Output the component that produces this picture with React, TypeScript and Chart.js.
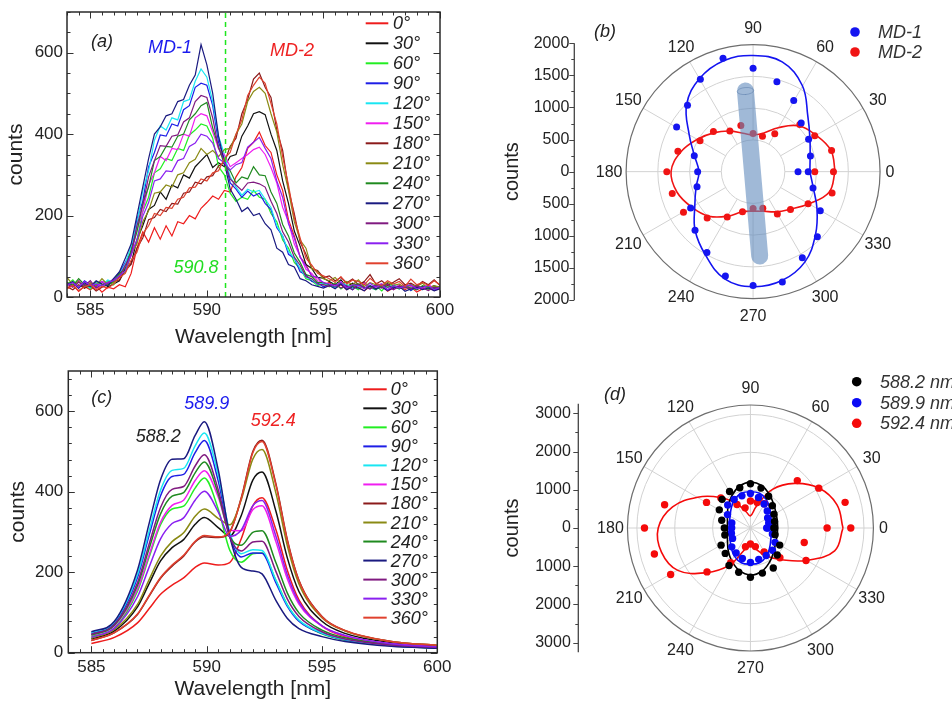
import React, { useEffect, useRef } from "react";
import { Chart, registerables } from "chart.js";

Chart.register(...registerables);

const FONT = "'Liberation Sans', Arial, Helvetica, sans-serif";
const INK = "#222222";

// ---------------- shared spectrum metadata ----------------
const ANGLE_LABELS = ["0°", "30°", "60°", "90°", "120°", "150°", "180°", "210°", "240°", "270°", "300°", "330°", "360°"];
const SERIES_COLORS = [
  "#ee1c1c", "#111111", "#22ee22", "#1e1ee6", "#19e6f2", "#f01ef0", "#8b1a1a",
  "#8a8a14", "#1f8a1f", "#1a1a80", "#801a80", "#8a20f0", "#e0412e",
];
const X_TICKS = [585, 590, 595, 600];
const Y_TICKS = [0, 200, 400, 600];

// ---------------- panel (a): measured spectra ----------------
const WL_A = [584, 584.25, 584.5, 584.75, 585, 585.25, 585.5, 585.75, 586, 586.25, 586.5, 586.75, 587, 587.25, 587.5, 587.75, 588, 588.25, 588.5, 588.75, 589, 589.25, 589.5, 589.75, 590, 590.25, 590.5, 590.75, 591, 591.25, 591.5, 591.75, 592, 592.25, 592.5, 592.75, 593, 593.25, 593.5, 593.75, 594, 594.25, 594.5, 594.75, 595, 595.25, 595.5, 595.75, 596, 596.25, 596.5, 596.75, 597, 597.25, 597.5, 597.75, 598, 598.25, 598.5, 598.75, 599, 599.25, 599.5, 599.75, 600];
const A_0 = [22, 30, 14, 26, 18, 28, 12, 24, 20, 30, 25, 58, 120, 160, 135, 170, 142, 175, 150, 185, 180, 200, 192, 218, 232, 248, 240, 262, 258, 295, 318, 365, 380, 405, 372, 355, 300, 262, 190, 150, 98, 80, 50, 48, 30, 36, 22, 30, 18, 28, 24, 15, 26, 20, 30, 14, 22, 28, 18, 25, 12, 20, 26, 16, 22];
const A_30 = [35, 28, 40, 22, 34, 30, 38, 25, 32, 40, 70, 82, 140, 175, 215, 225, 258, 240, 275, 268, 300, 292, 320, 335, 350, 318, 330, 320, 345, 350, 395, 420, 450, 455, 448, 400, 360, 285, 230, 162, 125, 80, 70, 48, 46, 38, 30, 42, 25, 34, 28, 36, 22, 30, 26, 33, 20, 28, 24, 30, 18, 26, 22, 28, 20];
const A_60 = [30, 42, 25, 38, 20, 34, 28, 40, 30, 52, 60, 105, 140, 210, 245, 305, 315, 340, 335, 365, 360, 398, 410, 425, 420, 390, 320, 300, 255, 235, 245, 240, 262, 245, 240, 205, 185, 140, 120, 85, 70, 45, 40, 28, 32, 25, 35, 20, 30, 26, 18, 32, 22, 28, 15, 30, 24, 20, 28, 16, 25, 22, 18, 26, 20];
const A_90 = [28, 36, 22, 40, 30, 25, 38, 32, 45, 60, 85, 110, 190, 235, 320, 355, 398, 395, 425, 420, 460, 470, 515, 525, 520, 470, 380, 340, 280, 265, 245, 260, 248, 255, 230, 215, 170, 150, 105, 95, 62, 55, 38, 35, 25, 30, 22, 34, 26, 18, 30, 24, 20, 28, 32, 18, 25, 22, 30, 16, 26, 20, 24, 18, 22];
const A_120 = [32, 26, 38, 30, 22, 35, 28, 42, 36, 55, 82, 125, 180, 260, 310, 385, 420, 410, 440, 435, 480, 485, 530, 560, 540, 480, 395, 350, 295, 270, 250, 265, 258, 262, 240, 220, 175, 150, 112, 95, 70, 48, 44, 30, 34, 28, 24, 36, 30, 20, 26, 32, 22, 18, 28, 24, 34, 20, 26, 22, 30, 18, 24, 20, 26];
const A_150 = [34, 25, 40, 28, 35, 22, 38, 30, 42, 50, 78, 100, 165, 210, 275, 305, 345, 335, 365, 362, 400, 395, 440, 450, 445, 405, 365, 350, 320, 330, 340, 350, 362, 368, 350, 318, 280, 220, 185, 130, 100, 68, 58, 40, 36, 32, 26, 38, 22, 30, 28, 35, 20, 26, 32, 24, 18, 30, 22, 28, 25, 20, 30, 22, 26];
const A_180 = [25, 18, 30, 22, 28, 15, 24, 30, 38, 42, 65, 80, 120, 145, 190, 195, 215, 210, 230, 228, 255, 258, 282, 278, 295, 298, 322, 330, 370, 390, 450, 485, 535, 550, 515, 490, 410, 360, 265, 205, 135, 105, 70, 65, 48, 52, 40, 48, 35, 44, 30, 38, 55, 32, 40, 28, 36, 45, 30, 34, 26, 38, 30, 42, 28];
const A_210 = [48, 30, 38, 25, 35, 28, 45, 30, 36, 55, 62, 105, 130, 185, 212, 255, 258, 275, 270, 300, 305, 330, 338, 365, 350, 360, 345, 362, 365, 400, 425, 480, 505, 515, 500, 450, 405, 325, 262, 185, 140, 120, 70, 62, 45, 40, 48, 32, 38, 30, 42, 26, 35, 30, 24, 36, 28, 32, 22, 30, 26, 34, 20, 28, 24];
const A_240 = [36, 28, 45, 30, 25, 38, 32, 28, 40, 58, 70, 115, 160, 230, 270, 335, 345, 370, 368, 395, 400, 435, 450, 470, 478, 415, 370, 325, 310, 280, 295, 290, 320, 300, 298, 258, 230, 178, 150, 108, 85, 55, 50, 36, 35, 30, 25, 34, 20, 28, 32, 22, 26, 18, 30, 24, 28, 20, 26, 22, 18, 28, 24, 20, 25];
const A_270 = [30, 38, 22, 35, 26, 40, 32, 28, 45, 62, 95, 130, 200, 270, 340, 400, 418, 445, 450, 480, 485, 520, 545, 620, 570, 500, 395, 330, 265, 240, 210, 220, 200, 205, 180, 165, 120, 110, 80, 74, 45, 40, 30, 26, 22, 28, 20, 32, 18, 25, 22, 15, 28, 20, 24, 16, 22, 26, 14, 20, 24, 18, 22, 15, 20];
const A_300 = [32, 24, 36, 28, 40, 22, 30, 35, 42, 50, 78, 105, 175, 225, 295, 335, 372, 370, 395, 398, 430, 440, 480, 495, 490, 440, 365, 335, 290, 275, 262, 280, 282, 278, 270, 235, 205, 160, 135, 98, 78, 50, 45, 32, 30, 26, 32, 22, 28, 18, 30, 24, 20, 28, 22, 32, 18, 26, 24, 20, 28, 22, 16, 24, 20];
const A_330 = [30, 35, 24, 38, 28, 32, 26, 36, 40, 52, 64, 104, 140, 198, 232, 285, 290, 310, 308, 335, 340, 370, 378, 400, 395, 378, 340, 330, 312, 325, 330, 368, 380, 392, 365, 340, 285, 245, 180, 145, 98, 76, 52, 48, 35, 32, 26, 36, 22, 30, 28, 20, 34, 24, 30, 18, 28, 22, 26, 30, 20, 24, 28, 18, 24];
const A_360 = [20, 28, 16, 25, 30, 18, 26, 22, 32, 48, 58, 90, 110, 155, 175, 205, 200, 220, 218, 240, 245, 268, 270, 290, 285, 305, 310, 340, 355, 400, 435, 495, 520, 540, 525, 475, 425, 345, 275, 195, 145, 95, 78, 58, 52, 45, 36, 50, 32, 42, 38, 30, 46, 34, 28, 40, 32, 38, 26, 44, 30, 36, 28, 40, 30];
const SPEC_A = [A_0, A_30, A_60, A_90, A_120, A_150, A_180, A_210, A_240, A_270, A_300, A_330, A_360];

// ---------------- panel (c): fitted spectra ----------------
const WL_C = [585, 586, 587, 587.5, 588, 588.5, 589, 589.5, 589.9, 590.5, 591, 591.5, 592, 592.4, 593, 593.5, 594, 595, 596, 598, 600];
const C_0 = [23, 38, 74, 109, 145, 168, 186, 212, 223, 218, 224, 283, 365, 385, 306, 204, 131, 66, 40, 21, 13];
const C_30 = [34, 54, 114, 171, 228, 261, 281, 319, 336, 311, 290, 341, 429, 449, 352, 235, 152, 78, 48, 25, 16];
const C_60 = [40, 61, 153, 237, 318, 357, 364, 409, 434, 357, 255, 225, 246, 248, 180, 119, 80, 47, 31, 17, 11];
const C_90 = [48, 73, 187, 291, 390, 438, 443, 497, 527, 427, 290, 238, 248, 247, 174, 115, 78, 48, 32, 18, 12];
const C_120 = [50, 76, 194, 301, 404, 453, 458, 514, 546, 442, 300, 246, 256, 254, 180, 118, 81, 49, 33, 18, 12];
const C_150 = [43, 67, 158, 242, 324, 366, 379, 428, 452, 387, 304, 303, 355, 365, 276, 183, 121, 66, 42, 22, 15];
const C_180 = [30, 50, 95, 140, 185, 215, 240, 275, 288, 286, 300, 385, 500, 528, 420, 280, 180, 90, 55, 28, 18];
const C_210 = [36, 58, 120, 181, 240, 276, 298, 339, 357, 334, 318, 380, 481, 505, 397, 265, 171, 87, 54, 28, 18];
const C_240 = [44, 68, 167, 258, 345, 389, 398, 447, 474, 395, 290, 267, 299, 303, 224, 148, 99, 56, 37, 20, 13];
const C_270 = [52, 78, 205, 320, 430, 481, 482, 540, 574, 455, 290, 212, 203, 196, 130, 85, 60, 40, 28, 16, 11];
const C_300 = [46, 70, 174, 269, 361, 406, 413, 464, 492, 405, 288, 253, 275, 277, 202, 133, 90, 52, 34, 19, 13];
const C_330 = [38, 61, 139, 212, 283, 321, 335, 379, 401, 350, 289, 305, 365, 378, 290, 193, 126, 67, 43, 22, 15];
const C_360 = [30, 50, 96, 142, 187, 218, 242, 277, 291, 288, 300, 383, 497, 525, 417, 278, 179, 89, 55, 28, 18];
const SPEC_C = [C_0, C_30, C_60, C_90, C_120, C_150, C_180, C_210, C_240, C_270, C_300, C_330, C_360];

// ---------------- polar panels (b), (d) ----------------
const POLAR_ANGLES = [0, 15, 30, 45, 60, 75, 90, 105, 120, 135, 150, 165, 180, 195, 210, 225, 240, 255, 270, 285, 300, 315, 330, 345, 360];
const POLAR_LABEL_ANGLES = [0, 30, 60, 90, 120, 150, 180, 210, 240, 270, 300, 330];

const B_MD1 = [868, 935, 1010, 1072, 1280, 1450, 1612, 1830, 1661, 1461, 1391, 959, 873, 914, 1136, 1293, 1454, 1685, 1773, 1780, 1551, 1432, 1222, 977, 708];
const B_MD2 = [1266, 1280, 1121, 1041, 683, 570, 594, 745, 732, 884, 965, 1226, 1359, 1318, 1266, 1023, 815, 646, 573, 592, 764, 833, 1000, 1288, 972];
const B_FIT1 = [894, 930, 1034, 1220, 1550, 1770, 1810, 1790, 1680, 1480, 1163, 956, 853, 930, 1060, 1292, 1500, 1730, 1793, 1757, 1628, 1390, 1163, 982, 894];
const B_FIT2 = [1292, 1270, 1140, 1010, 790, 620, 574, 620, 730, 860, 1010, 1180, 1292, 1240, 1111, 982, 801, 646, 615, 640, 723, 827, 1008, 1240, 1292];
const B_RADIAL_TICKS = [-2000, -1500, -1000, -500, 0, 500, 1000, 1500, 2000];
const B_ROD = [[-120, 1256], [104, -1315]];

const D_588 = [640, 660, 720, 820, 960, 1080, 1157, 1090, 1104, 1060, 950, 785, 690, 700, 896, 940, 1133, 1198, 1287, 1221, 1207, 1000, 893, 674, 620];
const D_589 = [461, 500, 525, 628, 723, 825, 904, 870, 860, 849, 700, 510, 496, 520, 545, 697, 755, 825, 904, 848, 832, 824, 750, 600, 430];
const D_592 = [2652, 2590, 2085, 1752, 730, 690, 704, 545, 711, 1107, 1340, 2348, 2800, 2628, 2435, 1623, 1045, 509, 417, 504, 722, 1101, 1696, 1472, 2026];
const D_FIT_588 = [720, 735, 780, 870, 1010, 1150, 1200, 1130, 980, 830, 700, 630, 610, 630, 700, 830, 990, 1150, 1230, 1170, 1020, 870, 770, 730, 720];
const D_FIT_589 = [560, 575, 620, 720, 850, 940, 948, 940, 850, 720, 620, 575, 560, 575, 620, 720, 850, 940, 945, 940, 850, 720, 620, 575, 560];
const D_FIT_592 = [2446, 2365, 2088, 1650, 1166, 574, 320, 440, 740, 1130, 1610, 2130, 2437, 2435, 2217, 1652, 1130, 580, 390, 580, 843, 1174, 1696, 2304, 2446];
const D_RADIAL_TICKS = [-3000, -2000, -1000, 0, 1000, 2000, 3000];

// ---------------- helpers ----------------
const toXY = (radii: number[]) =>
  radii.map((r, i) => {
    const t = (POLAR_ANGLES[i] * Math.PI) / 180;
    return { x: r * Math.cos(t), y: r * Math.sin(t) };
  });

const zeroPad = (s: any) => {
  s.paddingLeft = 0;
  s.paddingRight = 0;
  s.paddingTop = 0;
  s.paddingBottom = 0;
};

const baseOptions = {
  responsive: false,
  maintainAspectRatio: false,
  animation: false,
  devicePixelRatio: 1,
  events: [],
  plugins: { legend: { display: false }, tooltip: { enabled: false } },
};

type Note = { text: string; x: number; y: number; color: string };

function spectrumConfig(o: any) {
  const n = o.series.length;
  const datasets = o.series.map((s: number[], i: number) => ({
    label: ANGLE_LABELS[i],
    data: s.map((v, k) => ({ x: o.wl[k], y: v })),
    borderColor: SERIES_COLORS[i],
    backgroundColor: SERIES_COLORS[i],
    borderWidth: o.lineWidth,
    pointRadius: 0,
    showLine: true,
    fill: false,
    tension: 0,
    cubicInterpolationMode: o.smooth ? "monotone" : "default",
    order: n - i,
  }));
  const decor = {
    id: "specDecor",
    afterDatasetsDraw(chart: any) {
      const { ctx, chartArea: a, scales } = chart;
      const x = scales.x;
      const y = scales.y;
      ctx.save();
      if (o.marker !== undefined) {
        const px = x.getPixelForValue(o.marker);
        ctx.strokeStyle = "#1ee61e";
        ctx.lineWidth = 1.5;
        ctx.setLineDash([5, 4]);
        ctx.beginPath();
        ctx.moveTo(px, a.bottom);
        ctx.lineTo(px, a.top);
        ctx.stroke();
        ctx.setLineDash([]);
      }
      ctx.strokeStyle = "#333";
      ctx.lineWidth = 1;
      ctx.beginPath();
      for (let k = 0; ; k++) {
        const v = 584 + k * 0.5;
        if (v > 600.0001) break;
        const major = Math.abs(v % 5) < 1e-6;
        const len = major ? 6.5 : 3.5;
        const px = Math.round(x.getPixelForValue(v)) + 0.5;
        ctx.moveTo(px, a.bottom);
        ctx.lineTo(px, a.bottom - len);
        ctx.moveTo(px, a.top);
        ctx.lineTo(px, a.top + len);
      }
      for (let k = 0; ; k++) {
        const v = k * o.yMinor;
        if (v > 700.0001) break;
        const major = v % 200 === 0;
        const len = major ? 6.5 : 3.5;
        const py = Math.round(y.getPixelForValue(v)) + 0.5;
        ctx.moveTo(a.left, py);
        ctx.lineTo(a.left + len, py);
        ctx.moveTo(a.right, py);
        ctx.lineTo(a.right - len, py);
      }
      ctx.stroke();
      ctx.lineWidth = 1.5;
      ctx.strokeStyle = "#2a2a2a";
      ctx.strokeRect(a.left, a.top, a.right - a.left, a.bottom - a.top);
      ctx.restore();
    },
    afterDraw(chart: any) {
      const { ctx } = chart;
      const L = o.legend;
      ctx.save();
      ctx.font = `italic 18px ${FONT}`;
      ctx.textBaseline = "middle";
      ctx.textAlign = "left";
      ANGLE_LABELS.forEach((lab, i) => {
        const yy = L.y0 + i * L.dy;
        ctx.strokeStyle = SERIES_COLORS[i];
        ctx.lineWidth = 2;
        ctx.beginPath();
        ctx.moveTo(L.x0, yy);
        ctx.lineTo(L.x1, yy);
        ctx.stroke();
        ctx.fillStyle = INK;
        ctx.fillText(lab, L.tx, yy + 1);
      });
      ctx.textAlign = "center";
      o.notes.forEach((nt: Note) => {
        ctx.fillStyle = nt.color;
        ctx.fillText(nt.text, nt.x, nt.y);
      });
      ctx.restore();
    },
  };
  return {
    type: "scatter",
    data: { datasets },
    options: {
      ...baseOptions,
      layout: { padding: { top: o.padTop, right: o.padRight, left: 0, bottom: 0 } },
      scales: {
        x: {
          type: "linear",
          min: 584,
          max: 600,
          afterBuildTicks: (s: any) => {
            s.ticks = X_TICKS.map((v) => ({ value: v }));
          },
          afterFit: (s: any) => {
            s.height = o.xHeight;
            zeroPad(s);
          },
          grid: { display: false, drawTicks: false },
          border: { display: false },
          ticks: {
            font: { family: FONT, size: 17 },
            color: INK,
            padding: o.xTickPad,
            maxRotation: 0,
            autoSkip: false,
            callback: (v: any) => String(v),
          },
          title: {
            display: true,
            text: "Wavelength [nm]",
            font: { family: FONT, size: 21 },
            color: INK,
            padding: { top: 0, bottom: o.xTitlePad },
          },
        },
        y: {
          type: "linear",
          min: 0,
          max: 700,
          afterBuildTicks: (s: any) => {
            s.ticks = Y_TICKS.map((v) => ({ value: v }));
          },
          afterFit: (s: any) => {
            s.width = o.yWidth;
            zeroPad(s);
          },
          grid: { display: false, drawTicks: false },
          border: { display: false },
          ticks: {
            font: { family: FONT, size: 17 },
            color: INK,
            padding: o.yTickPad,
            callback: (v: any) => String(v),
          },
          title: {
            display: true,
            text: "counts",
            font: { family: FONT, size: 21 },
            color: INK,
            padding: { top: o.yTitlePad, bottom: 0 },
          },
        },
      },
    },
    plugins: [decor],
  };
}

function polarConfig(o: any) {
  const decor = {
    id: "polarDecor",
    beforeDatasetsDraw(chart: any) {
      const { ctx, scales } = chart;
      const x = scales.x;
      const y = scales.y;
      const cx = x.getPixelForValue(0);
      const cy = y.getPixelForValue(0);
      const k = (x.getPixelForValue(1000) - cx) / 1000;
      ctx.save();
      ctx.strokeStyle = "#d2d2d2";
      ctx.lineWidth = 1;
      o.circles.forEach((r: number) => {
        ctx.beginPath();
        ctx.arc(cx, cy, r * k, 0, Math.PI * 2);
        ctx.stroke();
      });
      POLAR_LABEL_ANGLES.forEach((a) => {
        const t = (a * Math.PI) / 180;
        ctx.beginPath();
        ctx.moveTo(cx + o.spokeFrom * k * Math.cos(t), cy - o.spokeFrom * k * Math.sin(t));
        ctx.lineTo(cx + o.outer * k * Math.cos(t), cy - o.outer * k * Math.sin(t));
        ctx.stroke();
      });
      ctx.strokeStyle = "#6e6e6e";
      ctx.lineWidth = 1.2;
      ctx.beginPath();
      ctx.arc(cx, cy, o.outer * k, 0, Math.PI * 2);
      ctx.stroke();
      ctx.fillStyle = INK;
      ctx.font = `16px ${FONT}`;
      ctx.textAlign = "center";
      ctx.textBaseline = "middle";
      POLAR_LABEL_ANGLES.forEach((a) => {
        const t = (a * Math.PI) / 180;
        const txt = String(a);
        const R = o.outer * k + (txt.length === 1 ? 10 : 17);
        ctx.fillText(txt, cx + R * Math.cos(t), cy - R * Math.sin(t) + 1);
      });
      ctx.restore();
    },
    afterDatasetsDraw(chart: any) {
      if (!o.rod) return;
      const { ctx, scales } = chart;
      const x = scales.x;
      const y = scales.y;
      const p1 = { x: x.getPixelForValue(o.rod[0][0]), y: y.getPixelForValue(o.rod[0][1]) };
      const p2 = { x: x.getPixelForValue(o.rod[1][0]), y: y.getPixelForValue(o.rod[1][1]) };
      ctx.save();
      ctx.lineCap = "round";
      ctx.lineWidth = 17;
      ctx.strokeStyle = "rgba(97,138,188,0.6)";
      ctx.beginPath();
      ctx.moveTo(p1.x, p1.y);
      ctx.lineTo(p2.x, p2.y);
      ctx.stroke();
      const ang = Math.atan2(p2.y - p1.y, p2.x - p1.x);
      ctx.lineWidth = 1;
      ctx.strokeStyle = "rgba(80,115,165,0.45)";
      ctx.beginPath();
      ctx.ellipse(p1.x, p1.y, 3.5, 8.3, ang, 0, Math.PI * 2);
      ctx.stroke();
      ctx.restore();
    },
    afterDraw(chart: any) {
      const { ctx, chartArea: a, scales } = chart;
      const y = scales.y;
      ctx.save();
      ctx.strokeStyle = "#444";
      ctx.lineWidth = 1.3;
      ctx.beginPath();
      ctx.moveTo(a.left, a.top);
      ctx.lineTo(a.left, a.bottom);
      ctx.stroke();
      ctx.lineWidth = 1;
      ctx.beginPath();
      const lim = o.yTicks[o.yTicks.length - 1];
      for (let v = -lim; v <= lim + 0.001; v += o.yMinor) {
        const major = o.yTicks.some((t: number) => Math.abs(t - v) < 1e-6);
        const len = major ? 5 : 3;
        const py = Math.round(y.getPixelForValue(v)) + 0.5;
        ctx.moveTo(a.left, py);
        ctx.lineTo(a.left - len, py);
      }
      ctx.stroke();
      ctx.font = `italic 18px ${FONT}`;
      ctx.textBaseline = "middle";
      ctx.textAlign = "left";
      o.legend.labels.forEach((lab: string, i: number) => {
        const yy = o.legend.ys[i];
        ctx.fillStyle = o.legend.colors[i];
        ctx.beginPath();
        ctx.arc(o.legend.dotX, yy, 4.8, 0, Math.PI * 2);
        ctx.fill();
        ctx.fillStyle = "#333";
        ctx.fillText(lab, o.legend.textX, yy + 1);
      });
      ctx.fillStyle = INK;
      ctx.textAlign = "center";
      ctx.fillText(o.tag.text, o.tag.x, o.tag.y);
      ctx.restore();
    },
  };
  return {
    type: "scatter",
    data: { datasets: o.datasets },
    options: {
      ...baseOptions,
      layout: { padding: { top: o.padTop, bottom: o.padBottom, left: 0, right: 0 } },
      scales: {
        x: { type: "linear", min: o.xMin, max: o.xMax, display: false },
        y: {
          type: "linear",
          min: o.yMin,
          max: o.yMax,
          afterBuildTicks: (s: any) => {
            s.ticks = o.yTicks.map((v: number) => ({ value: v }));
          },
          afterFit: (s: any) => {
            s.width = o.yWidth;
            zeroPad(s);
          },
          grid: { display: false, drawTicks: false },
          border: { display: false },
          ticks: {
            font: { family: FONT, size: 16 },
            color: INK,
            padding: o.yTickPad,
            callback: (v: any) => String(Math.abs(Number(v))),
          },
          title: {
            display: true,
            text: "counts",
            font: { family: FONT, size: 20 },
            color: INK,
            padding: { top: o.yTitlePad, bottom: 0 },
          },
        },
      },
    },
    plugins: [decor],
  };
}

const dots = (label: string, radii: number[], color: string, r: number) => ({
  label,
  data: toXY(radii),
  showLine: false,
  pointRadius: r,
  pointBackgroundColor: color,
  pointBorderWidth: 0,
  borderColor: color,
  backgroundColor: color,
});
const fitLine = (label: string, radii: number[], color: string) => ({
  label,
  data: toXY(radii),
  showLine: true,
  pointRadius: 0,
  borderColor: color,
  borderWidth: 1.6,
  tension: 0.4,
  fill: false,
});

// ---------------- builders ----------------
const buildA = () =>
  spectrumConfig({
    wl: WL_A,
    series: SPEC_A,
    lineWidth: 1.2,
    smooth: false,
    padTop: 12,
    padRight: 35,
    yWidth: 67,
    xHeight: 53,
    xTickPad: 3,
    yTickPad: 4,
    xTitlePad: 0,
    yTitlePad: 4,
    yMinor: 50,
    marker: 590.8,
    legend: { x0: 365.7, x1: 388.3, tx: 393, y0: 23.3, dy: 20 },
    notes: [
      { text: "(a)", x: 102, y: 42, color: INK },
      { text: "MD-1", x: 170, y: 48, color: "#1a1aee" },
      { text: "MD-2", x: 292, y: 51, color: "#ee2222" },
      { text: "590.8", x: 196, y: 268, color: "#22dd22" },
    ],
  });

const buildC = () =>
  spectrumConfig({
    wl: WL_C,
    series: SPEC_C,
    lineWidth: 1.5,
    smooth: true,
    padTop: 16,
    padRight: 37.7,
    yWidth: 68.3,
    xHeight: 49.3,
    xTickPad: 4,
    yTickPad: 5,
    xTitlePad: 0,
    yTitlePad: 5.5,
    yMinor: 40,
    legend: { x0: 363.3, x1: 386.7, tx: 390.7, y0: 34.3, dy: 19.03 },
    notes: [
      { text: "(c)", x: 101.7, y: 43.3, color: INK },
      { text: "588.2", x: 158.3, y: 81.7, color: INK },
      { text: "589.9", x: 206.7, y: 49.3, color: "#1a1aee" },
      { text: "592.4", x: 273.3, y: 66, color: "#ee2222" },
    ],
  });

const buildB = () =>
  polarConfig({
    datasets: [
      dots("MD-1", B_MD1, "#1414f0", 3.5),
      dots("MD-2", B_MD2, "#f01414", 3.5),
      fitLine("MD-1 fit", B_FIT1, "#1414f0"),
      fitLine("MD-2 fit", B_FIT2, "#f01414"),
    ],
    xMin: -2816,
    xMax: 3070,
    yMin: -2000,
    yMax: 2000,
    yTicks: B_RADIAL_TICKS,
    yMinor: 250,
    padTop: 43.3,
    padBottom: 50,
    yWidth: 94.3,
    yTickPad: 5,
    yTitlePad: 20,
    circles: [500, 1000, 1500],
    outer: 2000,
    spokeFrom: 500,
    rod: B_ROD,
    legend: { dotX: 375, textX: 398, ys: [32, 52], labels: ["MD-1", "MD-2"], colors: ["#1414f0", "#f01414"] },
    tag: { text: "(b)", x: 125, y: 32 },
  });

const buildD = () =>
  polarConfig({
    datasets: [
      dots("588.2 nm", D_588, "#000000", 3.7),
      dots("589.9 nm", D_589, "#0a0af5", 3.7),
      dots("592.4 nm", D_592, "#f50a0a", 3.7),
      fitLine("588.2 fit", D_FIT_588, "#000000"),
      fitLine("589.9 fit", D_FIT_589, "#0a0af5"),
      fitLine("592.4 fit", D_FIT_592, "#f50a0a"),
    ],
    xMin: -4549,
    xMax: 5221,
    yMin: -3250,
    yMax: 3250,
    yTicks: D_RADIAL_TICKS,
    yMinor: 500,
    padTop: 48.7,
    padBottom: 49.7,
    yWidth: 98.3,
    yTickPad: 7.5,
    yTitlePad: 20,
    circles: [1000, 2000, 3000],
    outer: 3250,
    spokeFrom: 0,
    legend: {
      dotX: 376.7,
      textX: 400,
      ys: [26.7, 47.7, 68.3],
      labels: ["588.2 nm", "589.9 nm", "592.4 nm"],
      colors: ["#000000", "#0a0af5", "#f50a0a"],
    },
    tag: { text: "(d)", x: 135, y: 40 },
  });

function PanelCanvas(props: { left: number; top: number; width: number; height: number; build: () => any }) {
  const ref = useRef<HTMLCanvasElement | null>(null);
  const { left, top, width, height, build } = props;
  useEffect(() => {
    if (!ref.current) return;
    const chart = new Chart(ref.current, build());
    return () => chart.destroy();
  }, [build]);
  return (
    <canvas
      ref={ref}
      width={width}
      height={height}
      style={{ position: "absolute", left, top, width, height, display: "block" }}
    />
  );
}

export default function App() {
  return (
    <div style={{ position: "absolute", left: 0, top: 0, width: 952, height: 702, background: "#ffffff", overflow: "hidden" }}>
      <PanelCanvas left={0} top={0} width={475} height={350} build={buildA} />
      <PanelCanvas left={480} top={0} width={472} height={350} build={buildB} />
      <PanelCanvas left={0} top={355} width={475} height={347} build={buildC} />
      <PanelCanvas left={480} top={355} width={472} height={347} build={buildD} />
    </div>
  );
}
